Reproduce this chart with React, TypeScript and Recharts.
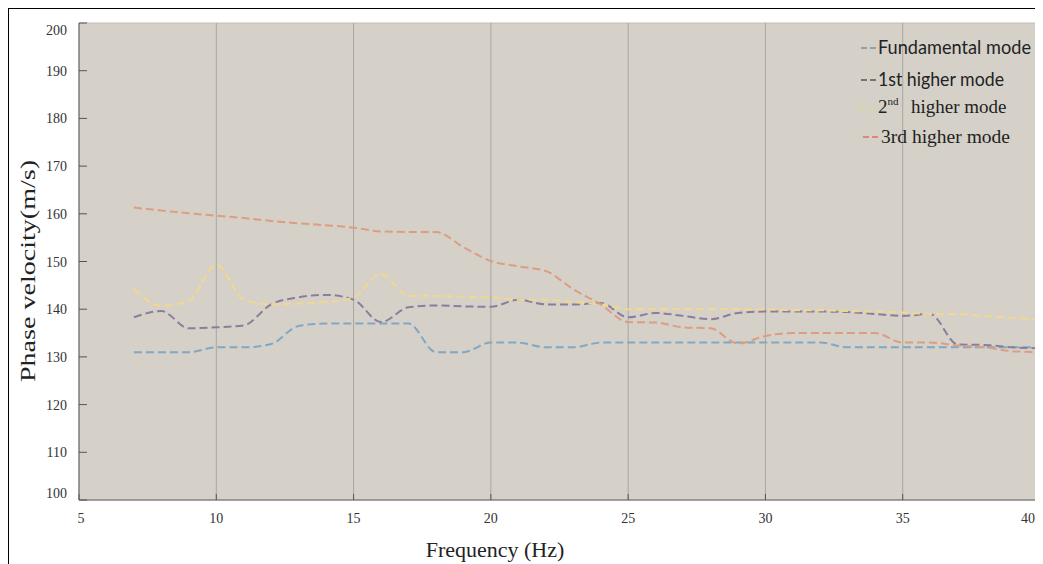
import { LineChart, Line, XAxis, YAxis, CartesianGrid, Label } from "recharts"

const freq = [7, 8, 9, 10, 11, 12, 13, 14, 15, 16, 17, 18, 19, 20, 21, 22, 23, 24, 25, 26, 27, 28, 29, 30, 31, 32, 33, 34, 35, 36, 37, 38, 39, 40]

const fundamental = [131, 131, 131, 132, 132, 132.7, 136.5, 137, 137, 137, 137, 131, 131, 133, 133, 132, 132, 133, 133, 133, 133, 133, 133, 133, 133, 133, 132, 132, 132, 132, 132, 132, 132, 132]
const firstHigher = [138.3, 139.6, 136, 136.2, 136.6, 141, 142.5, 143, 142, 137.3, 140.4, 140.8, 140.6, 140.5, 142, 141, 141, 141.3, 138.3, 139.2, 138.6, 137.9, 139.2, 139.5, 139.5, 139.5, 139.4, 139, 138.6, 139, 132.6, 132.5, 132, 131.8]
const secondHigher = [144.2, 140.7, 141.8, 149.3, 142, 141, 141.2, 141.5, 142.5, 147.4, 142.8, 142.8, 142.6, 142.5, 142, 142, 141.5, 141, 140, 140, 140, 140, 140, 140, 139.8, 139.8, 139.6, 139.5, 139.3, 139, 139, 138.5, 138.2, 137.8]
const thirdHigher = [161.3, 160.7, 160.1, 159.6, 159.1, 158.5, 158, 157.6, 157.1, 156.3, 156.2, 156.2, 153, 150.1, 149, 148, 144.2, 141, 137.3, 137.2, 136.2, 136, 132.8, 134.4, 135, 135, 135, 135, 133, 133, 132.4, 132, 131.2, 131]

const xTicks = [5, 10, 15, 20, 25, 30, 35, 40]
const yTicks = [100, 110, 120, 130, 140, 150, 160, 170, 180, 190, 200]

const COLORS = {
  fundamental: "#7fa8c6",
  first: "#8c7d9c",
  second: "#f2d78e",
  third: "#dc9d80",
}

const data = freq.map((f, i) => ({
  f,
  fundamental: fundamental[i],
  first: firstHigher[i],
  second: secondHigher[i],
  third: thirdHigher[i],
}))

const serif = "'Liberation Serif', 'DejaVu Serif', serif"
const sans = "Lato, 'Liberation Sans', sans-serif"

function YTick(props: any) {
  const { x, y, payload } = props
  // the end labels sit a little inside the plot in the original
  const nudge = payload.value === 200 ? 7 : payload.value === 100 ? -7 : 0
  return (
    <text x={x} y={y + nudge} dy={5} textAnchor="end" fontFamily={serif} fontSize={14} fill="#333">
      {payload.value}
    </text>
  )
}

function XTick(props: any) {
  const { x, y, payload } = props
  const nudge = payload.value === 40 ? -7 : payload.value === 5 ? 2 : 0
  return (
    <text x={x + nudge} y={y} dy={12} textAnchor="middle" fontFamily={serif} fontSize={14} fill="#333">
      {payload.value}
    </text>
  )
}

function ChartLegend() {
  const dash = (y: number, color: string, x0 = 11) => (
    <line x1={x0} x2={x0 + 15} y1={y} y2={y} stroke={color} strokeWidth={1.5} strokeDasharray="6 3" />
  )
  return (
    <svg width={190} height={145} style={{ display: "block" }}>
      {dash(39, "#7d8ea0")}
      <text x={28} y={45} fontFamily={sans} fontSize={19} fill="#222" textLength={153} lengthAdjust="spacingAndGlyphs">
        Fundamental mode
      </text>
      {dash(71, "#555")}
      <text x={28} y={77} fontFamily={sans} fontSize={19} fill="#222" textLength={126} lengthAdjust="spacingAndGlyphs">
        1st higher mode
      </text>
      {dash(99, "#e8d77a", 8)}
      <text x={28} y={104} fontFamily={serif} fontSize={19} fill="#222">
        2
        <tspan fontSize={11} dy={-8}>nd</tspan>
        <tspan x={61} dy={8}>higher mode</tspan>
      </text>
      {dash(128, "#e07060", 13)}
      <text x={31} y={134} fontFamily={serif} fontSize={19} fill="#222" textLength={129} lengthAdjust="spacingAndGlyphs">
        3rd higher mode
      </text>
    </svg>
  )
}

export default function App() {
  return (
    <div
      style={{
        position: "relative",
        width: 1035,
        height: 556,
        borderTop: "1px solid #000",
        borderLeft: "1px solid #000",
        background: "#fff",
        overflow: "hidden",
      }}
    >
      <LineChart width={1034} height={555} data={data} margin={{ top: 14, right: 0, bottom: 24, left: 0 }}>
        <CartesianGrid fill="#d5d1c9" stroke="#c2beb7" strokeWidth={1} vertical={false} />
        <CartesianGrid stroke="#aaa69f" strokeWidth={1} horizontal={false} />
        <XAxis
          dataKey="f"
          type="number"
          domain={[5, 40]}
          ticks={xTicks}
          allowDataOverflow
          height={40}
          tickSize={-6}
          tickMargin={17}
          axisLine={{ stroke: "#666" }}
          tickLine={{ stroke: "#555" }}
          tick={<XTick />}
        >
          <Label
            content={() => (
              <text x={486} y={548} textAnchor="middle" fontFamily={serif} fontSize={22} fill="#222">
                Frequency (Hz)
              </text>
            )}
          />
        </XAxis>
        <YAxis
          yAxisId="left"
          domain={[100, 200]}
          ticks={yTicks}
          width={70}
          tickSize={-8}
          tickMargin={20}
          axisLine={{ stroke: "#666" }}
          tickLine={{ stroke: "#555" }}
          tick={<YTick />}
        >
          <Label
            content={() => (
              <text
                x={26}
                y={262}
                transform="rotate(-90 26 262)"
                textAnchor="middle"
                fontFamily={serif}
                fontSize={22}
                fill="#222"
                textLength={222}
                lengthAdjust="spacingAndGlyphs"
              >
                Phase velocity(m/s)
              </text>
            )}
          />
        </YAxis>
        <YAxis
          yAxisId="right"
          orientation="right"
          domain={[100, 200]}
          ticks={yTicks}
          width={3}
          tickSize={-8}
          tick={false}
          axisLine={{ stroke: "#888" }}
          tickLine={{ stroke: "#555" }}
        />
        <Line yAxisId="left" type="monotone" dataKey="fundamental" stroke={COLORS.fundamental} strokeWidth={2} strokeDasharray="8 4" dot={false} isAnimationActive={false} />
        <Line yAxisId="left" type="monotone" dataKey="first" stroke={COLORS.first} strokeWidth={2} strokeDasharray="8 4" dot={false} isAnimationActive={false} />
        <Line yAxisId="left" type="monotone" dataKey="second" stroke={COLORS.second} strokeWidth={2} strokeDasharray="8 4" dot={false} isAnimationActive={false} />
        <Line yAxisId="left" type="monotone" dataKey="third" stroke={COLORS.third} strokeWidth={2} strokeDasharray="8 4" dot={false} isAnimationActive={false} />
      </LineChart>
      <div style={{ position: "absolute", left: 841, top: 0 }}>
        <ChartLegend />
      </div>
    </div>
  )
}
